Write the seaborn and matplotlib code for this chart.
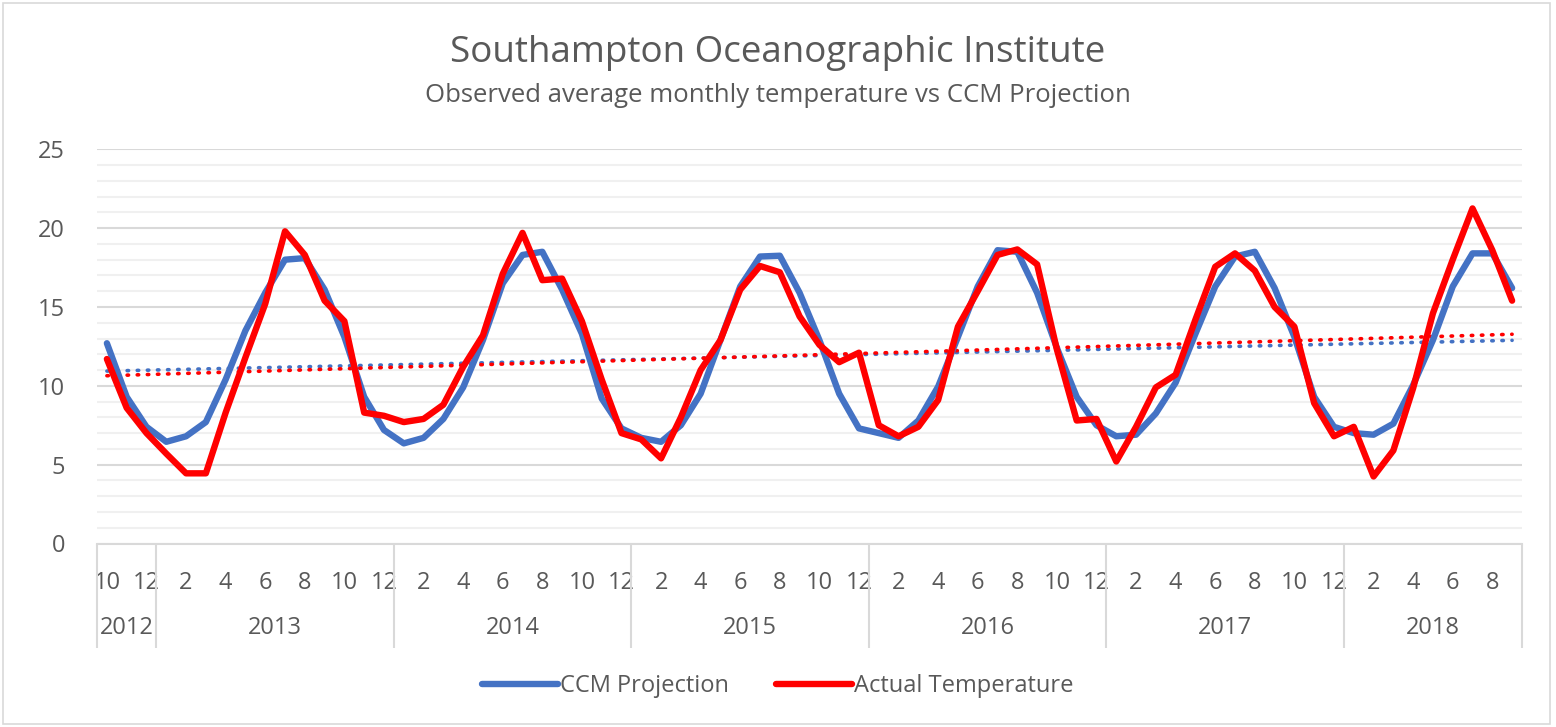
import numpy as np
import pandas as pd
import matplotlib
matplotlib.use("Agg")
import matplotlib.pyplot as plt
import matplotlib.transforms as mtransforms
from matplotlib.ticker import MultipleLocator
import seaborn as sns

# ---- data ----
years = ["2012", "2013", "2014", "2015", "2016", "2017", "2018"]
year_months = [[10, 11, 12]] + [list(range(1, 13))] * 5 + [list(range(1, 10))]
months = [m for ms in year_months for m in ms]

ccm_projection = [
    12.7, 9.3, 7.4,
    6.45, 6.8, 7.7, 10.4, 13.5, 15.9, 18.0, 18.1, 16.1, 13.1, 9.3, 7.2,
    6.35, 6.7, 7.9, 9.9, 12.9, 16.5, 18.3, 18.5, 16.1, 13.3, 9.2, 7.3,
    6.7, 6.45, 7.5, 9.5, 12.9, 16.3, 18.2, 18.25, 15.9, 12.9, 9.5, 7.3,
    7.0, 6.7, 7.8, 9.95, 13.1, 16.3, 18.6, 18.5, 15.9, 12.4, 9.3, 7.5,
    6.8, 6.9, 8.25, 10.2, 13.3, 16.3, 18.2, 18.5, 16.2, 13.1, 9.3, 7.4,
    7.0, 6.9, 7.6, 10.05, 12.9, 16.3, 18.4, 18.4, 16.2,
]
actual_temperature = [
    11.7, 8.6, 7.0,
    5.7, 4.45, 4.45, 8.3, 11.8, 15.2, 19.8, 18.3, 15.4, 14.1, 8.3, 8.1,
    7.7, 7.9, 8.8, 11.2, 13.2, 17.1, 19.7, 16.7, 16.8, 14.1, 10.4, 7.0,
    6.6, 5.4, 8.0, 11.0, 12.9, 16.1, 17.6, 17.2, 14.4, 12.6, 11.5, 12.1,
    7.5, 6.8, 7.4, 9.1, 13.75, 16.0, 18.3, 18.65, 17.7, 12.3, 7.8, 7.9,
    5.2, 7.4, 9.9, 10.7, 14.2, 17.55, 18.4, 17.3, 15.0, 13.75, 8.9, 6.8,
    7.4, 4.25, 5.9, 9.85, 14.6, 18.0, 21.25, 18.6, 15.4,
]
series_names = ["CCM Projection", "Actual Temperature"]
colors = {"CCM Projection": "#4472C4", "Actual Temperature": "#FF0000"}

idx = np.arange(len(months))
df = pd.DataFrame({
    "idx": np.concatenate([idx, idx]),
    "value": ccm_projection + actual_temperature,
    "series": [series_names[0]] * len(idx) + [series_names[1]] * len(idx),
})

# ---- figure ----
sns.set_theme(style="white")
plt.rcParams["font.family"] = ["Open Sans", "DejaVu Sans"]
text_color = "#595959"

fig = plt.figure(figsize=(15.56, 7.27), dpi=100)
ax = fig.add_axes([97 / 1556, 1 - 543.5 / 727, (1522 - 97) / 1556, (543.5 - 149.3) / 727])

# gridlines
ax.set_ylim(0, 25)
ax.yaxis.set_major_locator(MultipleLocator(5))
ax.yaxis.set_minor_locator(MultipleLocator(1))
ax.grid(axis="y", which="major", color="#d9d9d9", lw=1.5, zorder=0)
ax.grid(axis="y", which="minor", color="#f0f0f0", lw=1.5, zorder=0)
ax.grid(axis="x", visible=False)
ax.set_axisbelow(True)

# trendlines
for name, vals in zip(series_names, [ccm_projection, actual_temperature]):
    sns.regplot(x=idx, y=np.array(vals), scatter=False, ci=None, truncate=True, ax=ax,
                line_kws=dict(color=colors[name], lw=2.6, ls=(0, (0.4, 2.4)),
                              dash_capstyle="round", zorder=2))

# main lines
sns.lineplot(data=df, x="idx", y="value", hue="series", palette=colors,
             lw=4.6, ax=ax, zorder=3, solid_joinstyle="round", solid_capstyle="round")

ax.set_xlim(-0.5, len(months) - 0.5)
ax.set_xlabel("")
ax.set_ylabel("")
for s in ["top", "right", "left"]:
    ax.spines[s].set_visible(False)
ax.spines["bottom"].set_color("#d9d9d9")
ax.spines["bottom"].set_linewidth(1.5)

# y tick labels
ax.tick_params(axis="y", which="both", length=0, pad=23, labelsize=17, labelcolor=text_color)

# month labels (every second)
ax.set_xticks(idx[::2])
ax.set_xticklabels([str(m) for m in months[::2]])
ax.tick_params(axis="x", which="major", bottom=True, length=0, pad=20, labelsize=17,
               labelcolor=text_color)

# year separators as minor ticks
bounds = [-0.5]
pos = -0.5
for ms in year_months:
    pos += len(ms)
    bounds.append(pos)
ax.set_xticks(bounds, minor=True)
ax.tick_params(axis="x", which="minor", bottom=True, length=75, width=1.5, color="#d9d9d9",
               direction="out")

# year labels
trans = mtransforms.blended_transform_factory(ax.transData, ax.transAxes)
for i, yr in enumerate(years):
    cx = (bounds[i] + bounds[i + 1]) / 2
    ax.text(cx, -(628 - 543.5) / 394.2, yr, transform=trans, ha="center", va="center",
            fontsize=17, color=text_color)

# titles
fig.text(0.5, 1 - 53 / 727, "Southampton Oceanographic Institute", ha="center", va="center",
         fontsize=26.5, color=text_color)
fig.text(0.5, 1 - 95 / 727, "Observed average monthly temperature vs CCM Projection",
         ha="center", va="center", fontsize=18.5, color=text_color)

# legend
handles, labels = ax.get_legend_handles_labels()
ax.get_legend().remove()
leg = fig.legend(handles, labels, loc="center", bbox_to_anchor=(0.5, 1 - 686 / 727), ncol=2,
                 frameon=False, fontsize=17, handlelength=3.2, handletextpad=0.1,
                 columnspacing=2.0, labelcolor=text_color)

# chart border
fig.patches.append(plt.Rectangle((0.002, 0.004), 0.994, 0.992, transform=fig.transFigure,
                                 fill=False, edgecolor="#d9d9d9", lw=1.2))

fig.savefig("out.png", dpi=100)
